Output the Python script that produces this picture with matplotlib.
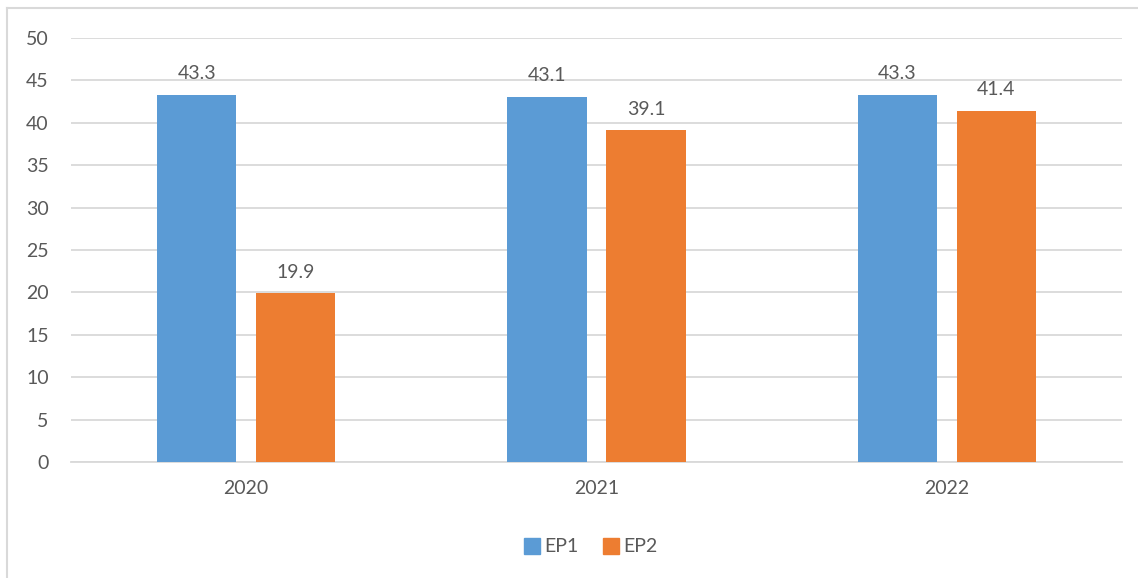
import matplotlib.pyplot as plt
import numpy as np
from matplotlib.lines import Line2D

years = ["2020", "2021", "2022"]
ep1 = [43.3, 43.1, 43.3]
ep2 = [19.9, 39.1, 41.4]
series_names = ["EP1", "EP2"]

BLUE = "#5b9bd5"
ORANGE = "#ed7d31"
TXT = "#595959"
GRID = "#d9d9d9"

plt.rcParams["font.family"] = ["Lato", "DejaVu Sans"]

fig = plt.figure(figsize=(11.38, 5.78), dpi=100)
ax = fig.add_axes([71 / 1138, 1 - 462 / 578, 1051 / 1138, 424 / 578])

x = np.arange(len(years))
w = 0.226
off = 0.1414
b1 = ax.bar(x - off, ep1, w, color=BLUE, zorder=3)
b2 = ax.bar(x + off, ep2, w, color=ORANGE, zorder=3)

# value labels above the bars
for bars, vals in ((b1, ep1), (b2, ep2)):
    for r, v in zip(bars, vals):
        ax.annotate(f"{v:.1f}", (r.get_x() + r.get_width() / 2, v),
                    xytext=(0, 9), textcoords="offset points",
                    ha="center", va="bottom", fontsize=14, color=TXT)

ax.set_xlim(-0.5, 2.5)
ax.set_ylim(0, 50)
ax.set_yticks(range(0, 51, 5))
ax.set_xticks(x)
ax.set_xticklabels(years)
ax.grid(axis="y", color=GRID, linewidth=1.3, zorder=0)
for s in ["top", "right", "left"]:
    ax.spines[s].set_visible(False)
ax.spines["bottom"].set_color(GRID)
ax.spines["bottom"].set_linewidth(1.3)
ax.tick_params(axis="both", length=0, labelsize=14, colors=TXT)
ax.tick_params(axis="y", pad=16)
ax.tick_params(axis="x", pad=13)

handles = [Line2D([], [], marker="s", linestyle="none", markersize=11, color=BLUE),
           Line2D([], [], marker="s", linestyle="none", markersize=11, color=ORANGE)]
fig.legend(handles, series_names, loc="center", bbox_to_anchor=(590 / 1138, 1 - 547 / 578),
           ncol=2, frameon=False, fontsize=14, labelcolor=TXT,
           handletextpad=0.1, columnspacing=1.2, handlelength=1.0)

# chart area border (only top and left edges show in the crop)
fig.add_artist(Line2D([7 / 1138, 1], [1 - 8 / 578, 1 - 8 / 578], transform=fig.transFigure,
                      color=GRID, linewidth=1.5))
fig.add_artist(Line2D([7 / 1138, 7 / 1138], [0, 1 - 8 / 578], transform=fig.transFigure,
                      color=GRID, linewidth=1.5))

plt.savefig("out.png", dpi=100)
